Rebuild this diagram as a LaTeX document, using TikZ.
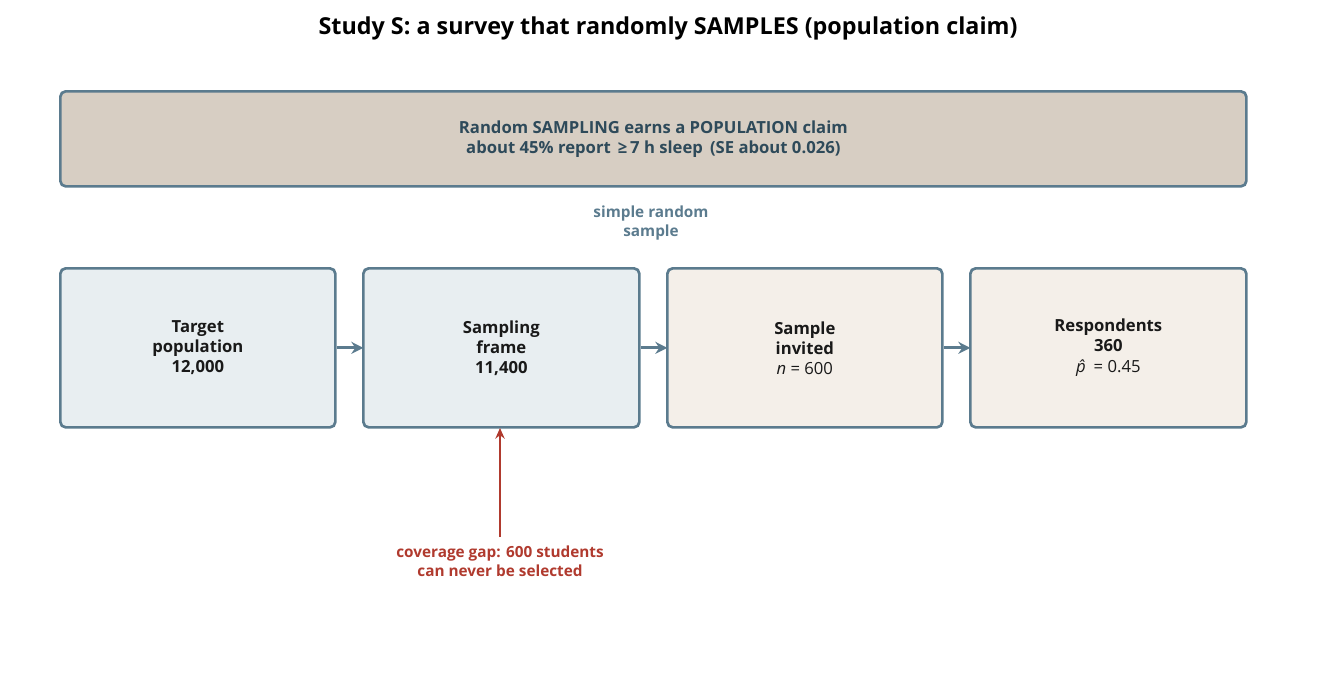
\documentclass[tikz,border=0pt]{standalone}
\usepackage{fontspec}
\setmainfont{Open Sans}
\usetikzlibrary{arrows.meta}
\begin{document}
\begin{tikzpicture}[x=0.75pt,y=-0.75pt,
  bx/.style={draw=edge,line width=2pt,rounded corners=4pt,anchor=north west,align=center,font=\bfseries\fontsize{12.5}{15}\selectfont,text=black!90},
  arr/.style={-{Stealth[length=9pt,width=9pt]},line width=2.4pt,draw=edge,shorten >=-1pt}]
\definecolor{edge}{HTML}{5B7B8E}
\definecolor{ban}{HTML}{D7CEC3}
\definecolor{blue}{HTML}{E8EEF1}
\definecolor{cream}{HTML}{F4EFE9}
\definecolor{dark}{HTML}{2E4A5A}
\definecolor{red}{HTML}{B03A2E}
\useasboundingbox (0,0) rectangle (1336,676);
\node[font=\bfseries\fontsize{17.5}{20}\selectfont] (t) at (668,28) {Study S: a survey that randomly SAMPLES (population claim)};
\node[bx,fill=ban,minimum width=1186*0.75pt,minimum height=95*0.75pt,text=dark] (ban) at (59,90) {Random SAMPLING earns a POPULATION claim\\about 45\% report \,≥\,7 h sleep \,(SE about 0.026)};
\node[bx,fill=blue,minimum width=275*0.75pt,minimum height=159*0.75pt] (a) at (59,267) {Target\\population\\12,000};
\node[bx,fill=blue,minimum width=276*0.75pt,minimum height=159*0.75pt] (b) at (362,267) {Sampling\\frame\\11,400};
\node[bx,fill=cream,minimum width=275*0.75pt,minimum height=159*0.75pt] (c) at (666,267) {Sample\\invited\\\mdseries\textit{n} = 600};
\node[bx,fill=cream,minimum width=276*0.75pt,minimum height=159*0.75pt] (d) at (969,267) {Respondents\\360\\[1pt]\mdseries\textit{\^p} = 0.45};
\draw[arr] (a.east) -- (b.west);
\draw[arr] (b.east) -- (c.west);
\draw[arr] (c.east) -- (d.west);
\node[font=\bfseries\fontsize{11.5}{14}\selectfont,text=edge,align=center] (s) at (651,223) {simple random\\sample};
\node[font=\bfseries\fontsize{11.5}{14}\selectfont,text=red,align=center] (g) at (500,561) {coverage gap: 600 students\\can never be selected};
\coordinate (g0) at (500,537);
\draw[-{Stealth[length=8pt,width=7pt]},line width=1.8pt,draw=red] (g0) -- (500,428);
\end{tikzpicture}
\end{document}
